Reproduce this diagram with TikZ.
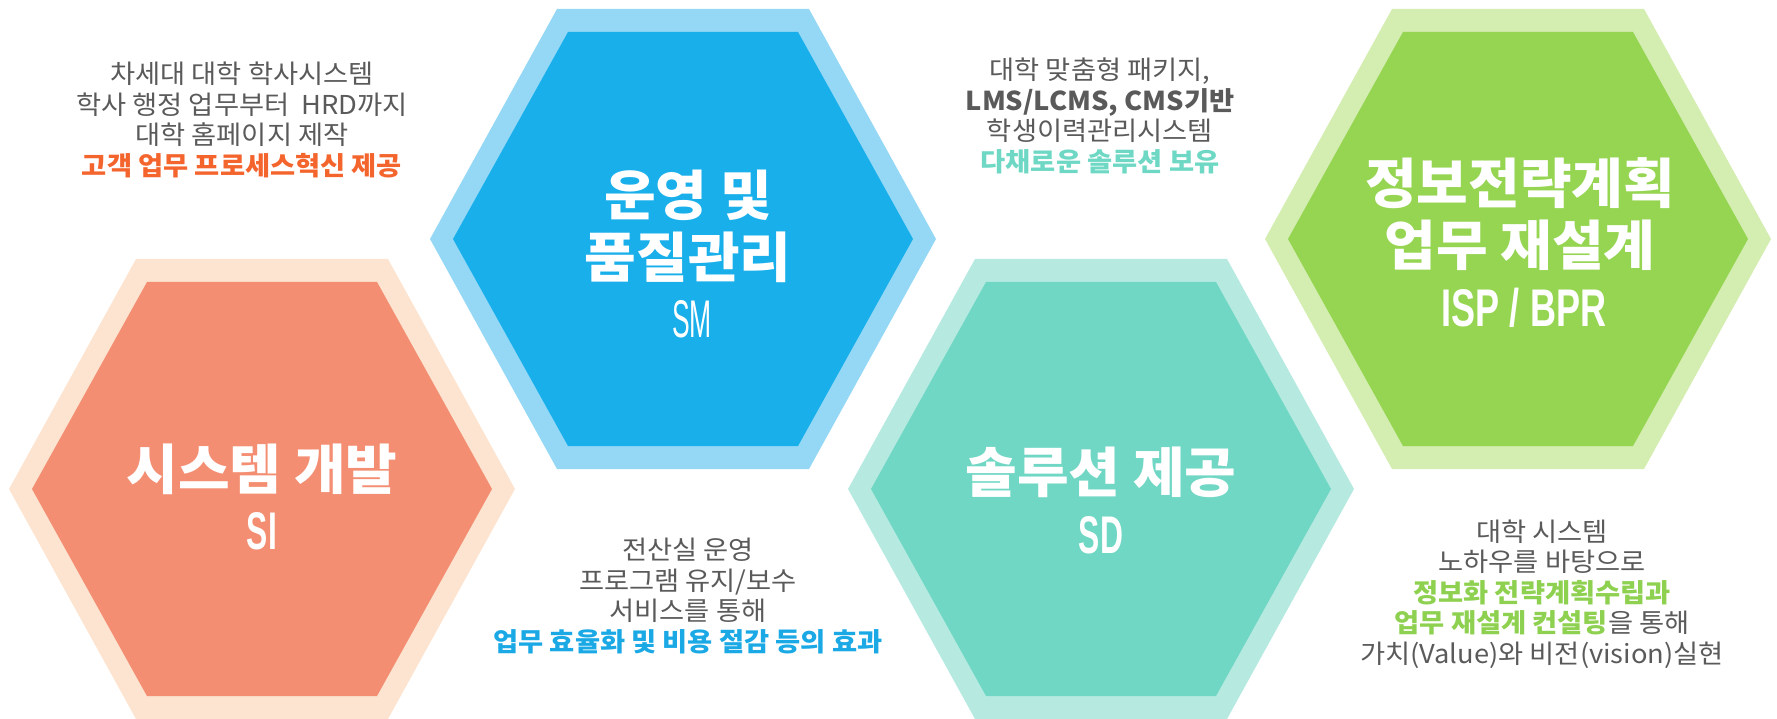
\documentclass[tikz,border=0pt]{standalone}
\usepackage{fontspec}
\usepackage{xcolor}
\usepackage{tikz}
\usetikzlibrary{positioning,calc}

\newfontfamily\cjk[FakeStretch=1.05]{Noto Sans CJK KR}
\newfontfamily\cjktitle[FakeStretch=1.04]{Noto Sans CJK KR}
\newfontfamily\narrow[FakeStretch=0.6]{Liberation Sans}
\newfontfamily\wide[FakeStretch=0.68]{Liberation Sans}
\newfontfamily\thin[FakeStretch=0.5]{Liberation Sans}

\definecolor{siout}{HTML}{FCE4D0}
\definecolor{siin}{HTML}{F48E72}
\definecolor{smout}{HTML}{94D8F6}
\definecolor{smin}{HTML}{19AFEB}
\definecolor{sdout}{HTML}{B6EAE1}
\definecolor{sdin}{HTML}{71D7C5}
\definecolor{ispout}{HTML}{D4EDB1}
\definecolor{ispin}{HTML}{95D551}
\definecolor{notegray}{HTML}{5A5A5A}
\definecolor{siword}{HTML}{F4642D}
\definecolor{smword}{HTML}{1BA9E6}
\definecolor{sdword}{HTML}{6ED8C4}
\definecolor{ispword}{HTML}{8ED04F}

\begin{document}
\begin{tikzpicture}[
    x=1pt, y=-1pt,
    % big white titles inside the hexagons
    title/.style={text=white, align=center, inner sep=0pt,
      font=\cjktitle\bfseries\fontsize{54}{62}\selectfont},
    % narrow latin abbreviations
    code/.style={text=white, inner sep=0pt,
      font=\narrow\bfseries\fontsize{53}{60}\selectfont},
    % gray explanations between the hexagons
    note/.style={text=notegray, align=center, inner sep=0pt,
      font=\cjk\fontsize{26}{30.5}\selectfont},
  ]
  \useasboundingbox (0,0) rectangle (1777,719);

  \coordinate (si) at (262,489);
  \coordinate (sm) at (683,239);
  \coordinate (sd) at (1101,489);
  \coordinate (isp) at (1518,239);

  % light rim first, then the solid core
  \foreach \c/\o/\i in {si/siout/siin, sm/smout/smin, sd/sdout/sdin, isp/ispout/ispin} {
    \fill[\o] (\c) ++(-253,0) -- ++(127,-230) -- ++(252,0) -- ++(127,230)
      -- ++(-127,230) -- ++(-252,0) -- cycle;
    \fill[\i] (\c) ++(-230,0) -- ++(115,-207) -- ++(230,0) -- ++(115,207)
      -- ++(-115,207) -- ++(-230,0) -- cycle;
  }

  \node[title] (si-t) at (262,469) {시스템 개발};
  \node[code] (si-c) at (262,531) {SI};
  \node[title] (sm-t) at (688,226) {운영 및\\품질관리};
  \node[code, font=\thin\fontsize{53}{60}\selectfont] (sm-c) at (692,319) {SM};
  \node[title] (sd-t) at (1101,472) {솔루션 제공};
  \node[code] (sd-c) at (1101,535) {SD};
  \node[title] (isp-t) at (1520,214) {정보전략계획\\업무 재설계};
  \node[code, font=\wide\bfseries\fontsize{53}{60}\selectfont] (isp-c) at (1524,308) {ISP / BPR};

  \node[note] (si-n) at (242,120) {차세대 대학 학사시스템\\
    학사 행정 업무부터~ HRD까지\\
    대학 홈페이지 제작\\
    {\bfseries\color{siword}고객 업무 프로세스혁신 제공}};
  \node[note] (sd-n) at (1100,116) {대학 맞춤형 패키지,\\
    {\bfseries LMS/LCMS, CMS기반}\\
    학생이력관리시스템\\
    {\bfseries\color{sdword}다채로운 솔루션 보유}};
  \node[note] (sm-n) at (688,596) {전산실 운영\\
    프로그램 유지/보수\\
    서비스를 통해\\
    {\bfseries\color{smword}업무 효율화 및 비용 절감 등의 효과}};
  \node[note] (isp-n) at (1542,594) {대학 시스템\\
    노하우를 바탕으로\\
    {\bfseries\color{ispword}정보화 전략계획수립과}\\
    {\bfseries\color{ispword}업무 재설계 컨설팅}을 통해\\
    가치(Value)와 비전(vision)실현};
\end{tikzpicture}
\end{document}
